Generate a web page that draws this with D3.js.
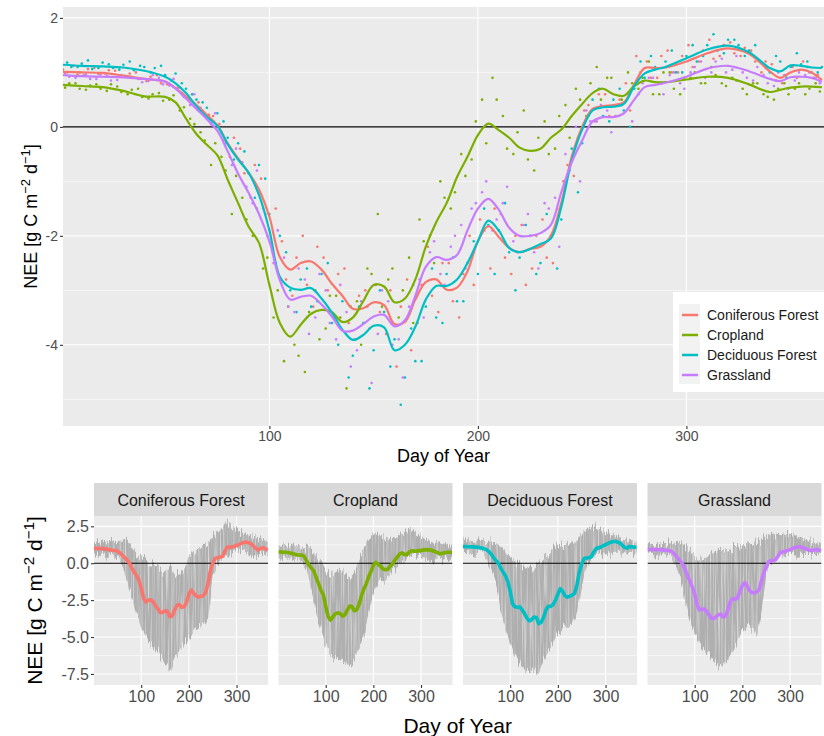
<!DOCTYPE html>
<html><head><meta charset="utf-8">
<script src="https://cdn.jsdelivr.net/npm/d3@7"></script>
<style>
body{margin:0;background:#fff}
svg{display:block}
text{font-family:"Liberation Sans",Arial,sans-serif}
</style>
</head><body>
<svg id="chart" width="824" height="736"></svg>
<script>
// ---------------- DATA ----------------
const seriesNames = ["Coniferous Forest","Cropland","Deciduous Forest","Grassland"];
const seriesColors = ["#F8766D","#7CAE00","#00BFC4","#C77CFF"];

// smoothed NEE curves (day of year knots)
const smoothDays = [1,10,20,30,40,50,55,60,65,70,75,80,85,90,95,100,105,110,115,120,125,130,135,140,145,150,155,160,165,170,175,180,185,190,195,200,205,210,215,220,225,230,235,240,245,250,255,260,265,270,275,280,285,290,300,310,320,330,340,345,350,355,360,365];
const coniferousSmooth = [1.01,1.00,0.99,0.94,0.88,0.83,0.71,0.56,0.40,0.22,0.03,-0.30,-0.58,-0.84,-1.15,-1.65,-2.39,-2.62,-2.50,-2.47,-2.62,-2.88,-3.10,-3.34,-3.33,-3.22,-3.27,-3.62,-3.58,-3.17,-2.85,-2.80,-2.99,-2.95,-2.65,-2.10,-1.82,-2.02,-2.22,-2.30,-2.24,-2.20,-2.00,-1.40,-0.55,0.00,0.33,0.38,0.40,0.45,0.78,1.08,1.08,1.09,1.20,1.35,1.44,1.34,1.02,0.90,1.00,1.05,1.00,0.86];
const croplandSmooth = [0.77,0.75,0.73,0.66,0.56,0.55,0.45,0.15,-0.13,-0.33,-0.52,-0.97,-1.40,-1.83,-2.13,-2.90,-3.60,-3.85,-3.63,-3.43,-3.36,-3.40,-3.58,-3.50,-3.20,-2.90,-2.93,-3.22,-3.15,-2.80,-2.20,-1.75,-1.40,-0.92,-0.55,-0.15,0.06,-0.06,-0.20,-0.38,-0.44,-0.40,-0.20,-0.05,0.20,0.42,0.62,0.70,0.60,0.57,0.75,0.85,0.82,0.82,0.87,0.92,0.90,0.78,0.64,0.68,0.72,0.74,0.74,0.73];
const deciduousSmooth = [1.14,1.12,1.11,1.09,1.03,0.92,0.80,0.62,0.38,0.18,0.02,-0.32,-0.60,-0.84,-1.25,-1.90,-2.75,-2.95,-2.99,-2.96,-3.15,-3.41,-3.72,-3.91,-3.82,-3.65,-3.68,-4.10,-4.00,-3.67,-3.17,-2.92,-2.92,-2.80,-2.50,-2.10,-1.72,-1.90,-2.22,-2.30,-2.24,-2.15,-2.05,-1.47,-0.61,-0.05,0.30,0.36,0.37,0.42,0.75,0.98,1.05,1.10,1.26,1.42,1.49,1.37,1.08,1.02,1.13,1.12,1.09,1.08];
const grasslandSmooth = [0.95,0.93,0.92,0.91,0.88,0.83,0.70,0.52,0.33,0.14,-0.07,-0.45,-0.86,-1.21,-1.60,-2.10,-2.81,-3.17,-3.12,-3.10,-3.26,-3.48,-3.74,-3.74,-3.62,-3.48,-3.45,-3.66,-3.55,-3.10,-2.57,-2.39,-2.44,-2.35,-1.90,-1.50,-1.32,-1.52,-1.85,-2.00,-2.00,-1.95,-1.80,-1.20,-0.65,-0.25,0.10,0.18,0.18,0.25,0.50,0.73,0.77,0.81,0.92,1.07,1.12,1.02,0.88,0.84,0.91,0.92,0.90,0.83];

// daily observations (two samples every five days per class)
const coniferousPointDaysA = d3.range(1, 366, 5);
const coniferousPointDaysB = d3.range(3, 366, 5);
const croplandPointDaysA = d3.range(2, 366, 5);
const croplandPointDaysB = d3.range(4, 366, 5);
const deciduousPointDaysA = d3.range(3, 366, 5);
const deciduousPointDaysB = d3.range(5, 366, 5);
const grasslandPointDaysA = d3.range(4, 366, 5);
const grasslandPointDaysB = d3.range(2, 366, 5);
const coniferousPointsA = [1.05,1.12,0.95,1.08,0.98,1.03,0.92,1.00,0.84,0.95,0.78,0.72,0.50,0.45,0.22,0.05,-0.55,-0.40,-1.3,-0.95,-2.2,-2.1,-3.1,-2.0,-3.3,-2.4,-3.5,-2.6,-3.9,-3.0,-2.9,-3.8,-4.4,-2.8,-3.6,-2.2,-3.4,-2.5,-3.5,-2.0,-1.7,-2.6,-1.6,-2.7,-1.8,-2.6,-1.7,-2.5,-1.0,-0.9,0.3,0.1,0.6,0.2,0.8,1.3,1.2,0.9,1.4,1.0,1.5,1.2,1.6,1.3,1.55,1.3,1.4,1.0,1.15,0.8,1.1,1.2,0.9];
const coniferousPointsB = [1.00,0.96,1.06,0.97,1.04,0.93,0.98,0.88,0.92,0.80,0.86,0.62,0.60,0.30,0.20,-0.25,-0.20,-0.85,-0.70,-1.6,-1.5,-2.8,-2.4,-2.9,-2.2,-3.0,-2.7,-3.6,-3.1,-3.7,-3.4,-3.0,-3.3,-4.1,-2.9,-3.1,-2.5,-3.2,-2.7,-2.9,-1.9,-1.5,-2.4,-2.0,-2.9,-2.0,-2.4,-1.5,-0.7,-0.2,0.4,0.6,0.2,0.5,0.3,1.0,0.9,1.3,1.0,1.3,1.1,1.4,1.25,1.5,1.35,1.45,1.2,1.2,0.85,0.95,0.9,1.1,0.95];
const croplandPointsA = [0.72,0.80,0.68,0.78,0.66,0.74,0.60,0.70,0.52,0.62,0.50,0.30,0.15,-0.10,-0.70,-0.55,-1.6,-1.3,-2.0,-2.6,-3.5,-4.3,-4.0,-4.5,-3.0,-3.7,-3.1,-4.8,-3.2,-2.6,-1.6,-2.8,-3.5,-2.4,-1.7,-2.0,-1.0,-1.5,-0.5,-0.6,0.5,0.9,0.2,-0.5,0.3,-0.8,0.1,-0.4,0.4,0.7,0.2,1.1,0.9,0.4,1.0,0.7,1.2,0.6,1.0,0.6,0.9,0.8,1.1,0.8,0.9,0.7,0.8,0.6,0.5,0.8,0.7,0.6,0.8];
const croplandPointsB = [0.80,0.70,0.76,0.70,0.78,0.64,0.68,0.55,0.60,0.48,0.58,0.36,0.05,-0.25,-0.30,-0.80,-0.90,-1.7,-1.5,-2.4,-3.0,-3.3,-4.2,-3.4,-3.9,-3.1,-3.5,-3.3,-4.0,-2.7,-3.3,-2.6,-3.0,-3.6,-2.1,-2.5,-1.3,-1.2,-0.9,0.1,-0.3,0.5,-0.4,-0.1,-0.6,-0.2,-0.5,0.2,-0.2,0.5,0.8,0.5,0.9,0.5,0.8,0.9,0.6,1.0,0.7,0.9,1.0,0.8,0.95,0.75,0.85,0.6,0.8,0.55,0.7,0.6,0.8,0.7,0.65];
const deciduousPointsA = [1.18,1.10,1.22,1.08,1.15,1.05,1.20,1.12,1.00,1.12,0.85,0.80,0.60,0.45,0.10,0.10,-0.60,-0.45,-1.30,-0.95,-2.5,-2.3,-3.4,-2.6,-3.2,-2.5,-4.0,-4.6,-3.3,-4.8,-3.0,-4.4,-5.1,-3.7,-4.3,-2.6,-3.6,-2.4,-3.2,-2.1,-1.5,-2.7,-1.4,-3.0,-1.8,-2.7,-1.6,-2.6,-0.9,-1.2,0.2,0.7,0.1,0.7,0.0,1.2,1.3,0.8,1.4,1.0,1.5,1.3,1.7,1.35,1.6,1.3,1.5,1.1,1.3,0.9,1.35,1.2,1.0];
const deciduousPointsB = [1.10,1.16,1.06,1.18,1.08,1.14,1.04,1.10,1.08,0.95,0.98,0.70,0.50,0.35,0.25,-0.20,-0.30,-0.85,-0.70,-1.60,-2.0,-3.0,-2.8,-3.3,-2.7,-3.6,-3.2,-4.2,-3.6,-4.1,-3.4,-3.9,-4.6,-4.3,-3.3,-3.5,-2.7,-3.2,-2.5,-2.7,-1.8,-1.9,-2.3,-2.4,-2.0,-2.5,-2.0,-1.7,-0.4,-0.3,0.5,0.2,0.5,0.3,0.7,0.9,1.1,1.2,1.0,1.3,1.2,1.5,1.4,1.6,1.5,1.4,1.2,1.0,1.2,1.1,1.15,1.0,1.1];
const grasslandPointsA = [0.92,1.00,0.88,0.96,0.85,0.95,0.90,0.82,0.95,0.78,0.88,0.55,0.60,0.20,0.25,-0.30,-0.40,-1.1,-0.8,-2.0,-1.9,-3.3,-2.6,-3.8,-2.7,-3.6,-2.9,-4.4,-3.2,-4.7,-3.0,-4.0,-4.6,-2.9,-3.5,-2.1,-2.9,-2.0,-2.6,-1.4,-1.0,-1.7,-1.1,-2.3,-1.6,-2.6,-1.5,-2.2,-0.8,-1.0,0.1,0.4,-0.1,0.4,0.1,0.8,0.9,0.6,1.0,0.7,1.1,0.9,1.2,1.0,1.3,0.9,1.1,0.8,1.0,0.7,1.0,1.0,0.8];
const grasslandPointsB = [0.98,0.90,0.96,0.88,0.94,0.86,0.93,0.88,0.84,0.90,0.76,0.72,0.40,0.35,0.05,-0.10,-0.70,-0.65,-1.4,-1.5,-2.5,-2.4,-3.4,-2.8,-3.5,-3.0,-3.9,-3.4,-4.1,-3.3,-3.8,-3.2,-3.9,-3.3,-2.8,-2.3,-2.7,-2.2,-1.8,-1.5,-1.2,-1.9,-1.4,-2.1,-1.8,-2.3,-1.4,-1.3,-0.5,0.0,0.3,0.1,0.3,0.4,0.6,0.6,0.9,0.8,0.95,0.8,1.0,1.2,1.0,1.25,1.05,1.0,0.85,0.95,0.75,0.95,0.85,0.95,0.9];

// site-level spread (upper / lower envelope) for the facets
const envDays = [1,10,20,30,40,50,60,70,80,90,100,110,120,130,140,150,160,170,180,190,200,210,220,230,240,250,260,270,280,290,300,310,320,330,340,350,360,365];
const coniferousHi = [1.4,1.5,1.4,1.5,1.5,1.4,1.6,1.5,1.1,0.7,0.4,0.3,0.1,-0.2,-0.5,-0.8,-0.3,-0.8,-0.7,-0.5,0.3,0.7,0.9,1.1,1.3,1.8,2.1,2.4,2.7,2.45,2.3,2.1,2.0,1.9,1.8,1.6,1.55,1.5];
const coniferousLo = [0.6,0.6,0.5,0.5,0.5,0.4,0.0,-1.2,-2.3,-3.4,-4.3,-5.0,-5.5,-5.8,-6.2,-6.8,-7.3,-6.5,-6.0,-5.4,-5.0,-4.5,-4.3,-4.1,-3.9,-0.8,-0.1,0.2,0.6,0.8,0.9,0.9,0.9,0.7,0.4,0.5,0.6,0.6];
const croplandHi = [1.2,1.2,1.1,1.2,1.2,1.1,1.2,0.9,0.5,0.1,-0.5,-0.8,-0.5,-0.3,-0.6,-1.1,-0.6,0.3,0.9,1.7,2.0,2.0,1.8,1.6,1.7,1.8,2.0,2.2,2.35,2.0,1.8,1.6,1.5,1.45,1.4,1.3,1.2,1.2];
const croplandLo = [0.3,0.3,0.3,0.3,0.3,0.3,-0.3,-2.0,-3.3,-4.5,-5.6,-6.3,-6.5,-6.4,-6.7,-7.0,-6.6,-5.8,-5.0,-3.4,-2.0,-1.2,-1.4,-1.1,-0.6,-0.2,0.1,0.35,0.45,0.45,0.4,0.3,0.3,0.3,0.3,0.3,0.3,0.3];
const deciduousHi = [1.5,1.55,1.5,1.55,1.5,1.5,1.55,1.3,1.1,0.65,0.4,0.2,0.0,-0.25,-0.5,-0.25,0.0,0.3,0.6,0.9,1.2,1.3,1.3,1.4,1.6,2.0,2.3,2.45,2.4,2.2,2.1,2.0,1.9,1.7,1.55,1.5,1.45,1.45];
const deciduousLo = [0.7,0.7,0.65,0.65,0.65,0.6,-0.5,-1.15,-3.2,-4.3,-5.4,-6.3,-6.8,-7.2,-7.45,-7.2,-7.45,-6.6,-6.0,-5.4,-4.7,-4.4,-4.3,-4.0,-3.4,-1.6,-0.3,0.2,0.5,0.65,0.65,0.65,0.65,0.65,0.65,0.65,0.65,0.65];
const grasslandHi = [1.3,1.3,1.3,1.3,1.3,1.35,1.5,1.5,1.1,0.8,0.55,0.4,0.4,0.5,0.7,0.9,0.9,1.0,1.1,1.1,1.2,1.3,1.3,1.5,1.6,1.8,2.0,1.95,1.9,1.95,2.0,1.9,1.75,1.6,1.5,1.4,1.3,1.3];
const grasslandLo = [0.65,0.65,0.6,0.6,0.6,0.55,0.0,-0.9,-2.6,-3.8,-4.9,-5.4,-5.8,-6.2,-6.6,-7.0,-6.9,-6.5,-5.9,-5.2,-4.6,-4.3,-4.3,-5.0,-3.5,-0.5,0.1,0.4,0.55,0.6,0.65,0.6,0.6,0.55,0.55,0.55,0.55,0.55];

const topYTicks = [-4,-2,0,2];
const topYMinor = [-5,-3,-1,1];
const xTicks = [100,200,300];
const facetYTicks = [2.5,0,-2.5,-5,-7.5];
const facetYTickLabels = ["2.5","0.0","-2.5","-5.0","-7.5"];
const facetYMinor = [1.25,-1.25,-3.75,-6.25];

const series = [
  {name:seriesNames[0], color:seriesColors[0], smooth:coniferousSmooth,
   pts:[[coniferousPointDaysA,coniferousPointsA],[coniferousPointDaysB,coniferousPointsB]], hi:coniferousHi, lo:coniferousLo},
  {name:seriesNames[1], color:seriesColors[1], smooth:croplandSmooth,
   pts:[[croplandPointDaysA,croplandPointsA],[croplandPointDaysB,croplandPointsB]], hi:croplandHi, lo:croplandLo},
  {name:seriesNames[2], color:seriesColors[2], smooth:deciduousSmooth,
   pts:[[deciduousPointDaysA,deciduousPointsA],[deciduousPointDaysB,deciduousPointsB]], hi:deciduousHi, lo:deciduousLo},
  {name:seriesNames[3], color:seriesColors[3], smooth:grasslandSmooth,
   pts:[[grasslandPointDaysA,grasslandPointsA],[grasslandPointDaysB,grasslandPointsB]], hi:grasslandHi, lo:grasslandLo}
];

// ---------------- DRAW ----------------
const svg = d3.select("#chart");
const axisTextCol = "#4D4D4D";
const defs = svg.append("defs");

// texture filter for the spread band (vertical noisy streaks like raw daily lines)
const filt = defs.append("filter").attr("id","grain")
  .attr("x","-2%").attr("y","-15%").attr("width","104%").attr("height","130%")
  .attr("color-interpolation-filters","sRGB");
filt.append("feTurbulence").attr("type","fractalNoise").attr("baseFrequency","0.6 0.015")
  .attr("numOctaves",2).attr("seed",11).attr("result","noise");
filt.append("feColorMatrix").attr("in","noise").attr("type","matrix")
  .attr("values","0 0 0 0 0.5  0 1 0 0 0  0 0 0 0 0  0 0 0 0 1").attr("result","dmap");
filt.append("feDisplacementMap").attr("in","SourceGraphic").attr("in2","dmap")
  .attr("scale",20).attr("xChannelSelector","R").attr("yChannelSelector","G").attr("result","disp");
filt.append("feColorMatrix").attr("in","noise").attr("type","matrix")
  .attr("values","0 0 0 0 0.9  0 0 0 0 0.9  0 0 0 0 0.9  0 0 2.0 0 -0.9").attr("result","light");
filt.append("feComposite").attr("in","light").attr("in2","disp").attr("operator","in").attr("result","lightIn");
const merge = filt.append("feMerge");
merge.append("feMergeNode").attr("in","disp");
merge.append("feMergeNode").attr("in","lightIn");

// ===== TOP PANEL =====
const P = {l:63, r:824, t:7, b:426};
const x = d3.scaleLinear().domain([1,366]).range([P.l,P.r]);
const y = d3.scaleLinear().domain([-5.49,2.2]).range([P.b,P.t]);

defs.append("clipPath").attr("id","clipTop")
  .append("rect").attr("x",P.l).attr("y",P.t).attr("width",P.r-P.l).attr("height",P.b-P.t);

const topG = svg.append("g");
topG.append("rect").attr("x",P.l).attr("y",P.t).attr("width",P.r-P.l).attr("height",P.b-P.t).attr("fill","#EBEBEB");
topG.append("g").selectAll("line").data(topYMinor).join("line")
  .attr("x1",P.l).attr("x2",P.r).attr("y1",d=>y(d)).attr("y2",d=>y(d))
  .attr("stroke","#fff").attr("stroke-width",0.55);
topG.append("g").selectAll("line").data(topYTicks).join("line")
  .attr("x1",P.l).attr("x2",P.r).attr("y1",d=>y(d)).attr("y2",d=>y(d))
  .attr("stroke","#fff").attr("stroke-width",1.1);
topG.append("g").selectAll("line").data(xTicks).join("line")
  .attr("y1",P.t).attr("y2",P.b).attr("x1",d=>x(d)).attr("x2",d=>x(d))
  .attr("stroke","#fff").attr("stroke-width",1.1);

const plotTop = topG.append("g").attr("clip-path","url(#clipTop)");
plotTop.append("line").attr("x1",P.l).attr("x2",P.r).attr("y1",y(0)).attr("y2",y(0))
  .attr("stroke","#000").attr("stroke-width",1.2);

series.forEach(s=>{
  s.pts.forEach(([days,vals])=>{
    plotTop.append("g").selectAll("circle").data(vals.map((v,i)=>[days[i],v])).join("circle")
      .attr("cx",d=>x(d[0])).attr("cy",d=>y(d[1])).attr("r",1.3).attr("fill",s.color);
  });
});
const smoothLine = d3.line().x(d=>x(d[0])).y(d=>y(d[1])).curve(d3.curveCatmullRom.alpha(0.5));
series.forEach(s=>{
  plotTop.append("path").datum(smoothDays.map((d,i)=>[d,s.smooth[i]]))
    .attr("d",smoothLine).attr("fill","none").attr("stroke",s.color).attr("stroke-width",2.2);
});

// axes
const yAx = svg.append("g").attr("transform",`translate(${P.l},0)`)
  .call(d3.axisLeft(y).tickValues(topYTicks).tickFormat(d=>String(d)).tickSize(3).tickPadding(2));
const xAx = svg.append("g").attr("transform",`translate(0,${P.b})`)
  .call(d3.axisBottom(x).tickValues(xTicks).tickFormat(d=>String(d)).tickSize(3).tickPadding(2));
[yAx,xAx].forEach(a=>{
  a.select(".domain").remove();
  a.selectAll(".tick line").attr("stroke","#333").attr("stroke-width",1.1);
  a.selectAll(".tick text").attr("fill",axisTextCol).style("font-size","14px").style("font-family","'Liberation Sans',Arial,sans-serif");
});

svg.append("text").attr("x",(P.l+P.r)/2).attr("y",462).attr("text-anchor","middle")
  .style("font-size","18px").attr("fill","#000").text("Day of Year");

function neeTitle(g, fs){
  const t = g.append("text").attr("text-anchor","middle").style("font-size",fs+"px").attr("fill","#000");
  t.append("tspan").text("NEE [g C m");
  t.append("tspan").attr("baseline-shift","super").style("font-size",(fs*0.72)+"px").text("\u22122");
  t.append("tspan").text(" d");
  t.append("tspan").attr("baseline-shift","super").style("font-size",(fs*0.72)+"px").text("\u22121");
  t.append("tspan").text("]");
  return t;
}
neeTitle(svg.append("g").attr("transform",`translate(37,${(P.t+P.b)/2}) rotate(-90)`), 18);

// legend
const lg = svg.append("g").attr("transform","translate(673,292)");
lg.append("rect").attr("width",151).attr("height",100).attr("fill","#fff");
lg.append("rect").attr("x",6).attr("y",12).attr("width",21).attr("height",80).attr("fill","#F2F2F2");
series.forEach((s,i)=>{
  const yy = 23 + i*20;
  lg.append("line").attr("x1",9).attr("x2",25).attr("y1",yy).attr("y2",yy).attr("stroke",s.color).attr("stroke-width",2.5);
  lg.append("text").attr("x",34).attr("y",yy+5).style("font-size","14px").attr("fill","#1A1A1A").text(s.name);
});

// ===== FACETS =====
const F = {t:516, b:685, stripT:483, w:174, starts:[94,278.5,463,647.5]};
const fy = d3.scaleLinear().domain([-8.25,3.2]).range([F.b,F.t]);
const facetLine = d3.line().x(d=>d[0]).y(d=>fy(d[1]));
series.forEach((s,i)=>{
  const x0 = F.starts[i];
  const fx = d3.scaleLinear().domain([1,366]).range([x0,x0+F.w]);
  const g = svg.append("g");
  defs.append("clipPath").attr("id","clipF"+i)
    .append("rect").attr("x",x0).attr("y",F.t).attr("width",F.w).attr("height",F.b-F.t);
  g.append("rect").attr("x",x0).attr("y",F.stripT).attr("width",F.w).attr("height",F.t-F.stripT).attr("fill","#D9D9D9");
  g.append("text").attr("x",x0+F.w/2).attr("y",F.stripT+22.5).attr("text-anchor","middle")
    .style("font-size","16px").attr("fill","#1A1A1A").text(s.name);
  g.append("rect").attr("x",x0).attr("y",F.t).attr("width",F.w).attr("height",F.b-F.t).attr("fill","#EBEBEB");
  g.append("g").selectAll("line").data(facetYMinor).join("line")
    .attr("x1",x0).attr("x2",x0+F.w).attr("y1",d=>fy(d)).attr("y2",d=>fy(d))
    .attr("stroke","#fff").attr("stroke-width",0.55);
  g.append("g").selectAll("line").data(facetYTicks).join("line")
    .attr("x1",x0).attr("x2",x0+F.w).attr("y1",d=>fy(d)).attr("y2",d=>fy(d))
    .attr("stroke","#fff").attr("stroke-width",1.1);
  g.append("g").selectAll("line").data(xTicks).join("line")
    .attr("x1",d=>fx(d)).attr("x2",d=>fx(d)).attr("y1",F.t).attr("y2",F.b)
    .attr("stroke","#fff").attr("stroke-width",1.1);
  const pg = g.append("g").attr("clip-path",`url(#clipF${i})`);
  const area = d3.area().x(d=>fx(d.d)).y0(d=>fy(d.lo)).y1(d=>fy(d.hi));
  pg.append("path").datum(envDays.map((d,k)=>({d:d,hi:s.hi[k],lo:s.lo[k]})))
    .attr("d",area).attr("fill","#AFAFAF").attr("filter","url(#grain)");
  pg.append("line").attr("x1",x0).attr("x2",x0+F.w).attr("y1",fy(0)).attr("y2",fy(0))
    .attr("stroke","#000").attr("stroke-width",1.2);
  pg.append("path").datum(smoothDays.map((d,k)=>[fx(d),s.smooth[k]]))
    .attr("d",facetLine).attr("fill","none").attr("stroke",s.color).attr("stroke-width",3.6)
    .attr("stroke-linejoin","round");
  const xa = g.append("g").attr("transform",`translate(0,${F.b})`)
    .call(d3.axisBottom(fx).tickValues(xTicks).tickFormat(d=>String(d)).tickSize(3).tickPadding(3));
  xa.select(".domain").remove();
  xa.selectAll(".tick line").attr("stroke","#333").attr("stroke-width",1.1);
  xa.selectAll(".tick text").attr("fill",axisTextCol).style("font-size","16px").style("font-family","'Liberation Sans',Arial,sans-serif");
  if(i===0){
    const ya = g.append("g").attr("transform",`translate(${x0},0)`)
      .call(d3.axisLeft(fy).tickValues(facetYTicks).tickFormat((d,k)=>facetYTickLabels[k]).tickSize(3).tickPadding(2));
    ya.select(".domain").remove();
    ya.selectAll(".tick line").attr("stroke","#333").attr("stroke-width",1.1);
    ya.selectAll(".tick text").attr("fill",axisTextCol).style("font-size","16px").style("font-family","'Liberation Sans',Arial,sans-serif");
  }
});
svg.append("text").attr("x",(F.starts[0]+F.starts[3]+F.w)/2).attr("y",733).attr("text-anchor","middle")
  .style("font-size","21px").attr("fill","#000").text("Day of Year");
neeTitle(svg.append("g").attr("transform",`translate(42,${(F.t+F.b)/2}) rotate(-90)`), 21);
</script>
</body></html>
